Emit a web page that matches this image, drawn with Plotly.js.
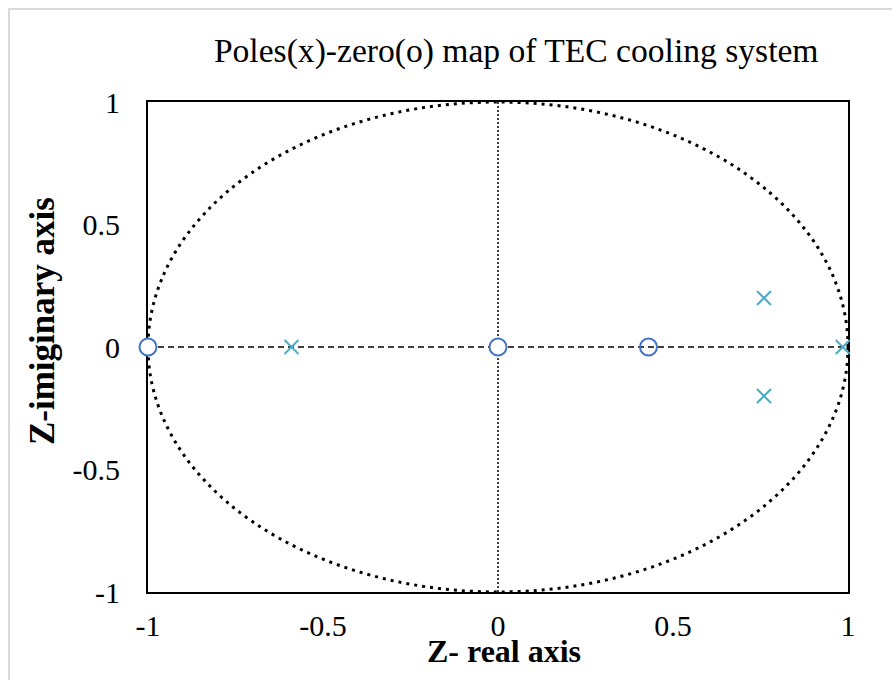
<!DOCTYPE html>
<html>
<head>
<meta charset="utf-8">
<script src="https://cdn.plot.ly/plotly-3.0.1.min.js"></script>
<style>html,body{margin:0;padding:0;background:#fff;}#chart{width:892px;height:680px;}</style>
</head>
<body>
<div id="chart"></div>
<script>
// Data
const zeroReal = [-1, 0, 0.43];
const zeroImag = [0, 0, 0];
const poleReal = [-0.59, 0.76, 0.76, 0.985];
const poleImag = [0, 0.2, -0.2, 0];
const tickVals = [-1, -0.5, 0, 0.5, 1];
const tickText = ['-1', '-0.5', '0', '0.5', '1'];

const serif = 'Liberation Serif, Times New Roman, serif';

const traces = [
  {
    x: zeroReal, y: zeroImag, type: 'scatter', mode: 'markers', name: 'Zeros', cliponaxis: false,
    marker: {symbol: 'circle', size: 17, color: ['#ffffff', '#ffffff', 'rgba(0,0,0,0)'],
             line: {color: '#4472C4', width: 2}},
    hoverinfo: 'x+y'
  },
  {
    x: poleReal, y: poleImag, type: 'scatter', mode: 'markers', name: 'Poles', cliponaxis: false,
    marker: {symbol: 'x-thin-open', size: 14, color: '#4BACC6',
             line: {color: '#4BACC6', width: 2}},
    hoverinfo: 'x+y'
  }
];

const layout = {
  width: 892, height: 680,
  margin: {l: 148, r: 44, t: 102, b: 88},
  paper_bgcolor: '#ffffff', plot_bgcolor: '#ffffff',
  showlegend: false,
  font: {family: serif, color: '#000', size: 30},
  title: {text: 'Poles(x)-zero(o) map of TEC cooling system', font: {family: serif, size: 33.6, color: '#000'},
          x: 0.526, xanchor: 'center', y: 0.926, yanchor: 'middle', xref: 'paper'},
  xaxis: {
    range: [-1, 1], tickvals: tickVals, ticktext: tickText, showgrid: false, zeroline: false,
    showline: true, linecolor: '#000', linewidth: 2, mirror: true, ticks: '', ticklabelstandoff: 6,
    layer: 'below traces',
    tickfont: {family: serif, size: 30, color: '#000'}
  },
  yaxis: {
    range: [-1, 1], tickvals: tickVals, ticktext: tickText, showgrid: false, zeroline: false,
    showline: true, linecolor: '#000', linewidth: 2, mirror: true, ticks: '', ticklabelstandoff: 20,
    layer: 'below traces',
    tickfont: {family: serif, size: 30, color: '#000'}
  },
  annotations: [
    {text: '<b>Z- real axis</b>', xref: 'paper', yref: 'paper', x: 0.508, y: -0.1205,
     xanchor: 'center', yanchor: 'middle', showarrow: false,
     font: {family: serif, size: 32, color: '#000'}},
    {text: '<b>Z-imiginary axis</b>', xref: 'paper', yref: 'paper', x: -0.1514, y: 0.553,
     xanchor: 'center', yanchor: 'middle', showarrow: false, textangle: -90,
     font: {family: serif, size: 35, color: '#000'}}
  ],
  shapes: [
    {type: 'circle', xref: 'x', yref: 'y', x0: -1, y0: -1, x1: 1, y1: 1, layer: 'below',
     line: {color: '#000', width: 3, dash: '3px,5px'}},
    {type: 'line', xref: 'x', yref: 'y', x0: -1, y0: 0, x1: 1, y1: 0, layer: 'below',
     line: {color: '#000', width: 1.5, dash: '6px,4px'}},
    {type: 'line', xref: 'x', yref: 'y', x0: 0, y0: -1, x1: 0, y1: 1, layer: 'below',
     line: {color: '#000', width: 1.5, dash: '2px,2px'}},
    {type: 'rect', xref: 'paper', yref: 'paper', x0: -0.1986, y0: -0.3, x1: 1.2, y1: 1.1898, layer: 'below',
     line: {color: '#d9d9d9', width: 2}}
  ]
};

Plotly.newPlot('chart', traces, layout, {displayModeBar: false, staticPlot: true});
</script>
</body>
</html>
